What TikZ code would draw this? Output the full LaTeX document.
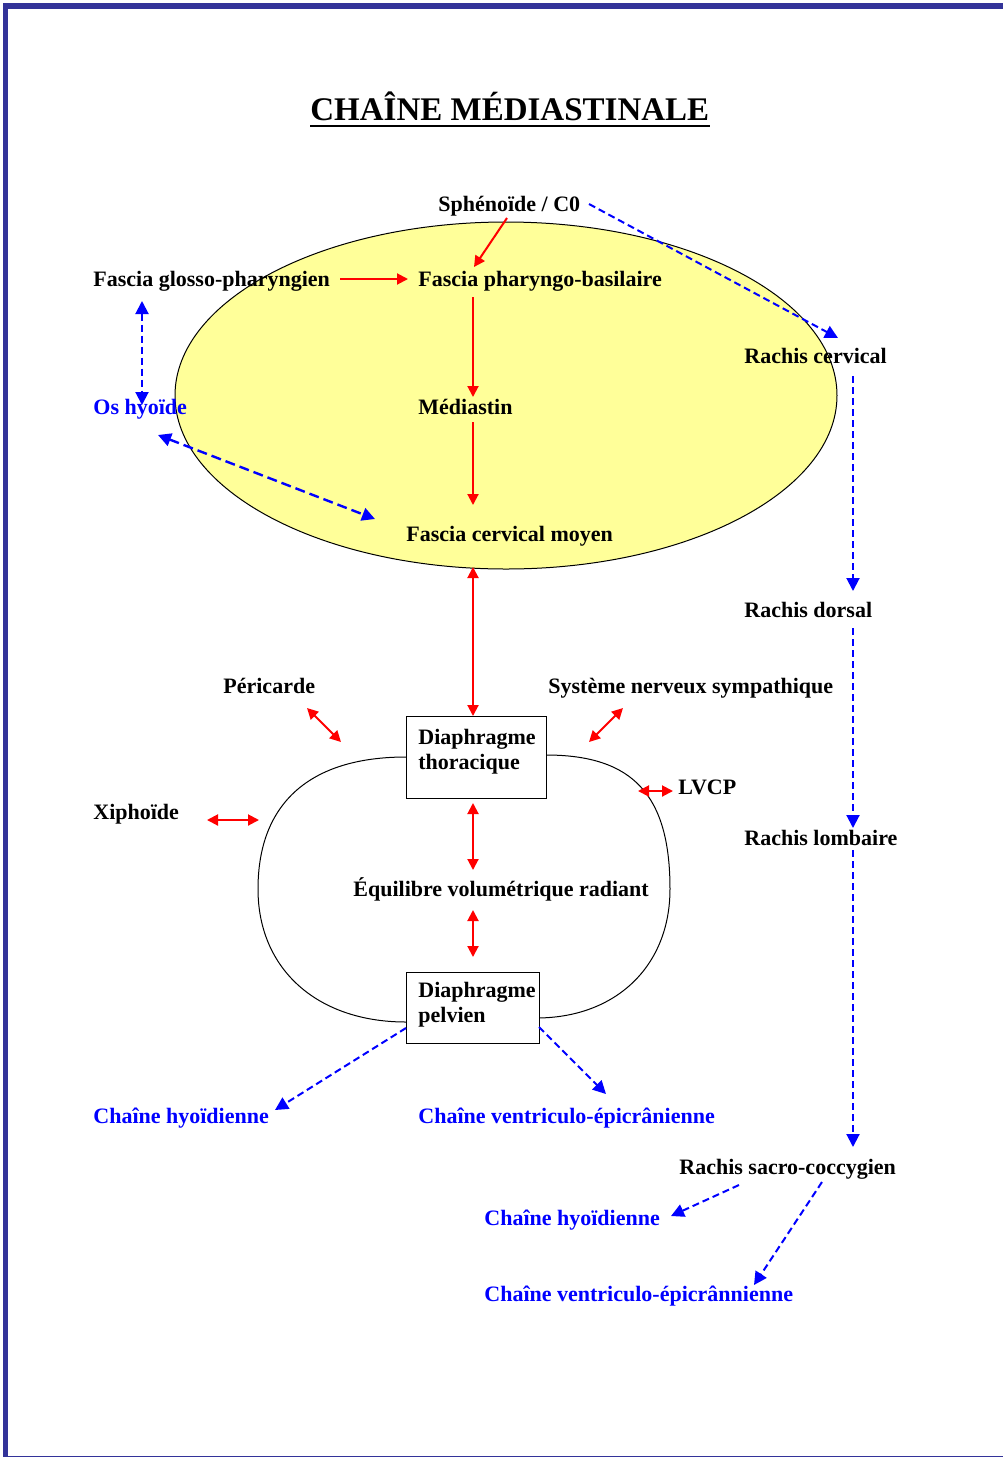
\documentclass[tikz,border=0pt]{standalone}
\usepackage{fontspec}
\setmainfont{Liberation Serif}
\usetikzlibrary{arrows.meta,shapes.geometric,calc}
\definecolor{framecol}{HTML}{333399}
\definecolor{chainblue}{HTML}{0000FF}
\definecolor{chainred}{HTML}{FF0000}
\definecolor{cavityfill}{HTML}{FFFF99}
\newcommand\lblfont{\fontsize{11}{12.5}\selectfont\bfseries}
\newcommand\titlefont{\fontsize{16.5}{18}\selectfont\bfseries}

\begin{document}
\begin{tikzpicture}[x=0.5pt,y=-0.5pt,
  lbl/.style={font=\lblfont, inner sep=0pt, anchor=base west},
  blbl/.style={lbl, text=chainblue},
  boxst/.style={draw, line width=0.6pt, fill=white, anchor=north west, inner sep=0pt},
  redarr/.style={draw=chainred, line width=1pt, -{Triangle[length=5.5pt,width=5.5pt]}},
  reddbl/.style={draw=chainred, line width=1pt, {Triangle[length=5.5pt,width=5.5pt]}-{Triangle[length=5.5pt,width=5.5pt]}},
  bluearr/.style={draw=chainblue, line width=1pt, dash pattern=on 3.5pt off 2pt, -{Triangle[length=6.5pt,width=6.5pt]}},
  bluedbl/.style={bluearr, {Triangle[length=6.5pt,width=6.5pt]}-{Triangle[length=6.5pt,width=6.5pt]}}
]
\useasboundingbox (0,0) rectangle (1003,1457);

% page frame
\fill[framecol] (3,3) rectangle (1003,9);
\fill[framecol] (3,3) rectangle (8,1457);
\fill[framecol] (3,1455.5) rectangle (1003,1456.8);

% title
\node[lbl, font=\titlefont] (title) at (310,120) {CHAÎNE MÉDIASTINALE};
\draw[line width=1pt] ($(title.base west)+(0,6)$) -- ($(title.base east)+(0,6)$);

% upper cavity
\node[ellipse, draw, line width=0.5pt, fill=cavityfill, minimum width=331pt,
      minimum height=173.5pt, inner sep=0pt] (cavity) at (506,395.5) {};

% lower cavity outline
\draw[line width=0.5pt] (406,757) .. controls (310,757) and (258,803) .. (258,889)
      .. controls (258,969) and (317,1022) .. (406,1022);
\draw[line width=0.5pt] (546,755) .. controls (633,755) and (670,795) .. (670,889)
      .. controls (670,966) and (616,1018) .. (536,1018);

% diaphragm boxes
\node[boxst, minimum width=70pt, minimum height=41pt] (dthor) at (406,716) {};
\node[boxst, minimum width=66.5pt, minimum height=35.5pt] (dpelv) at (406,972) {};

% labels
\node[lbl] (spheno) at (438,211) {Sphénoïde / C0};
\node[lbl] (glosso) at (93,286) {Fascia glosso-pharyngien};
\node[lbl] (pharyngo) at (418,286) {Fascia pharyngo-basilaire};
\node[lbl] (rcerv) at (744,363) {Rachis cervical};
\node[blbl] (hyoide) at (93,414) {Os hyoïde};
\node[lbl] (mediastin) at (418,414) {Médiastin};
\node[lbl] (fcm) at (406,541) {Fascia cervical moyen};
\node[lbl] (rdors) at (744,617) {Rachis dorsal};
\node[lbl] (peric) at (223,693) {Péricarde};
\node[lbl] (sns) at (548,693) {Système nerveux sympathique};
\node[lbl] (dthorA) at (418,744) {Diaphragme};
\node[lbl] (dthorB) at (418,769) {thoracique};
\node[lbl] (lvcp) at (678,794) {LVCP};
\node[lbl] (xipho) at (93,819) {Xiphoïde};
\node[lbl] (rlomb) at (744,845) {Rachis lombaire};
\node[lbl] (equil) at (353,896) {Équilibre volumétrique radiant};
\node[lbl] (dpelvA) at (418,997) {Diaphragme};
\node[lbl] (dpelvB) at (418,1022) {pelvien};
\node[blbl] (chyA) at (93,1123) {Chaîne hyoïdienne};
\node[blbl] (cveA) at (418,1123) {Chaîne ventriculo-épicrânienne};
\node[lbl] (rsacro) at (679,1174) {Rachis sacro-coccygien};
\node[blbl] (chyB) at (484,1225) {Chaîne hyoïdienne};
\node[blbl] (cveB) at (484,1301) {Chaîne ventriculo-épicrânnienne};

% connector ends
\coordinate (sphS) at (507,218);   \coordinate (phN) at (474,267);
\coordinate (glE) at (340,279);    \coordinate (phW) at (408,279);
\coordinate (phS) at (473,297);    \coordinate (meN) at (473,397);
\coordinate (meS) at (473,422);    \coordinate (fcN) at (473,505);
\coordinate (cavS) at (473,567);   \coordinate (dtN) at (473,716);
\coordinate (peA) at (307,708);    \coordinate (peB) at (341,742);
\coordinate (snA) at (623,708);    \coordinate (snB) at (589,742);
\coordinate (lvA) at (638,791);    \coordinate (lvB) at (673,791);
\coordinate (xiA) at (207,820);    \coordinate (xiB) at (259,820);
\coordinate (dtS) at (473,803);    \coordinate (eqN) at (473,870);
\coordinate (eqS) at (473,910);    \coordinate (dpN) at (473,957);
\coordinate (sphE) at (589,204);   \coordinate (rcN) at (838,338);
\coordinate (glS) at (142,301);    \coordinate (hyN) at (142,405);
\coordinate (hyE) at (158,435);    \coordinate (fcW) at (375,519);
\coordinate (rcS) at (853,376);    \coordinate (rdN) at (853,591);
\coordinate (rdS) at (853,628);    \coordinate (rlN) at (853,828);
\coordinate (rlS) at (853,850);    \coordinate (rsN) at (853,1147);
\coordinate (dpW) at (406,1028);   \coordinate (chyAE) at (275,1110);
\coordinate (dpE) at (539,1027);   \coordinate (cveAN) at (606,1094);
\coordinate (rsW) at (739,1185);   \coordinate (chyBE) at (671,1216);
\coordinate (rsS) at (822,1182);   \coordinate (cveBN) at (754,1285);

% red links
\draw[redarr] (sphS) -- (phN);
\draw[redarr] (glE) -- (phW);
\draw[redarr] (phS) -- (meN);
\draw[redarr] (meS) -- (fcN);
\draw[reddbl] (cavS) -- (dtN);
\draw[reddbl] (peA) -- (peB);
\draw[reddbl] (snA) -- (snB);
\draw[reddbl] (lvA) -- (lvB);
\draw[reddbl] (xiA) -- (xiB);
\draw[reddbl] (dtS) -- (eqN);
\draw[reddbl] (eqS) -- (dpN);

% blue links
\draw[bluearr] (sphE) -- (rcN);
\draw[bluedbl] (glS) -- (hyN);
\draw[bluedbl, line width=1.2pt, dash pattern=on 5pt off 2.5pt] (hyE) -- (fcW);
\draw[bluearr] (rcS) -- (rdN);
\draw[bluearr] (rdS) -- (rlN);
\draw[bluearr] (rlS) -- (rsN);
\draw[bluearr] (dpW) -- (chyAE);
\draw[bluearr] (dpE) -- (cveAN);
\draw[bluearr] (rsW) -- (chyBE);
\draw[bluearr] (rsS) -- (cveBN);
\end{tikzpicture}
\end{document}
